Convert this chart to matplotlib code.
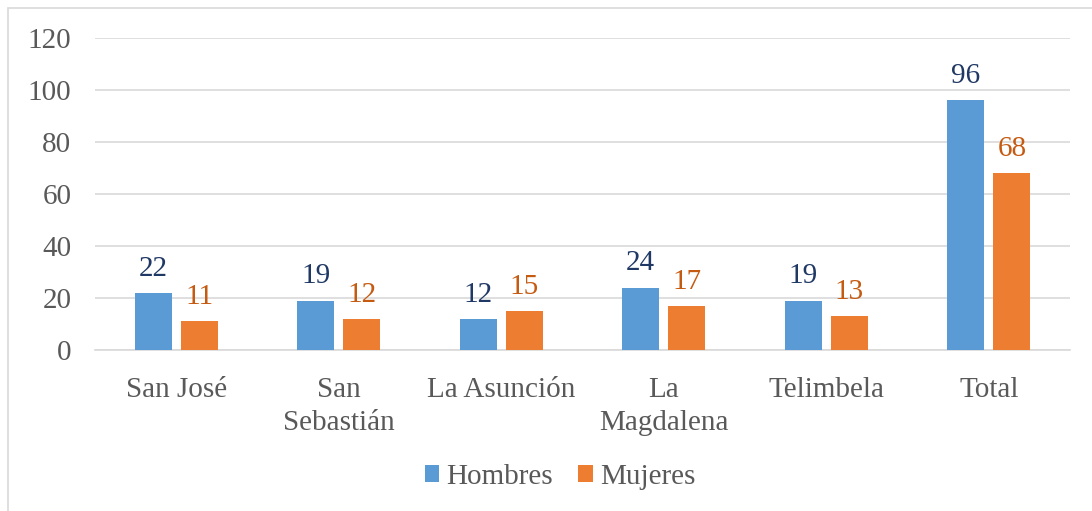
import matplotlib
matplotlib.use("Agg")
import matplotlib.pyplot as plt
import numpy as np
from matplotlib.patches import Rectangle

categories = ["San José", "San\nSebastián", "La Asunción", "La\nMagdalena", "Telimbela", "Total"]
hombres = [22, 19, 12, 24, 19, 96]
mujeres = [11, 12, 15, 17, 13, 68]
yticks = [0, 20, 40, 60, 80, 100, 120]

plt.rcParams['font.family'] = ['Liberation Serif', 'DejaVu Serif']

fig = plt.figure(figsize=(10.92, 5.11), dpi=100)
ax = fig.add_axes([95/1092, 1-350/511, (1070-95)/1092, (350-38)/511])

x = np.arange(len(categories))
w = 0.228
off = 0.142
blue = '#5B9BD5'
orange = '#ED7D31'
b1 = ax.bar(x - off, hombres, w, color=blue, label='Hombres', zorder=3)
b2 = ax.bar(x + off, mujeres, w, color=orange, label='Mujeres', zorder=3)

fs = 21
for xi, v in zip(x - off, hombres):
    ax.annotate(str(v), (xi, v), xytext=(0, 8), textcoords='offset points',
                ha='center', va='bottom', fontsize=fs, color='#1F3864')
for xi, v in zip(x + off, mujeres):
    ax.annotate(str(v), (xi, v), xytext=(0, 8), textcoords='offset points',
                ha='center', va='bottom', fontsize=fs, color='#C55A11')

ax.set_xlim(-0.5, len(categories) - 0.5)
ax.set_ylim(0, 120)
ax.set_yticks(yticks)
ax.set_xticks(x)
ax.set_xticklabels(categories, linespacing=1.35)
ax.tick_params(axis='both', length=0, labelsize=fs, labelcolor='#595959')
ax.tick_params(axis='x', pad=19.5)
ax.tick_params(axis='y', pad=17)
ax.grid(axis='y', color='#D9D9D9', linewidth=1.2, zorder=0)
for s in ['top', 'right', 'left']:
    ax.spines[s].set_visible(False)
ax.spines['bottom'].set_color('#D9D9D9')
ax.spines['bottom'].set_linewidth(1.2)

leg = fig.legend(handles=[b1, b2], loc='center', bbox_to_anchor=(560/1092, 1-477/511),
                 ncol=2, frameon=False, fontsize=fs, labelcolor='#595959',
                 handlelength=0.5, handleheight=0.5, handletextpad=0.25, columnspacing=0.85)

rect = Rectangle((8/1092, -0.05), 1.1, 1 - 8/511 + 0.05, transform=fig.transFigure,
                 fill=False, edgecolor='#D9D9D9', linewidth=1.2, clip_on=False)
fig.patches.append(rect)

fig.savefig('out.png', dpi=100)
